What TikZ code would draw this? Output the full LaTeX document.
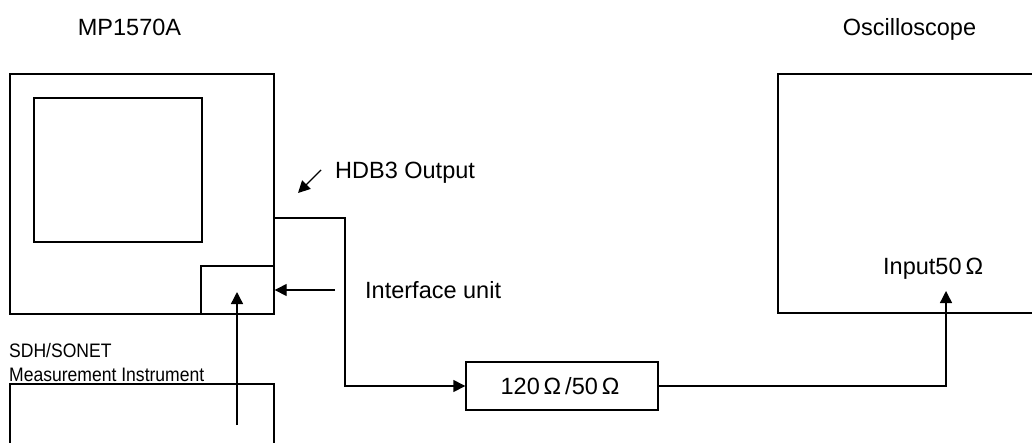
\documentclass[tikz,border=0pt]{standalone}
\usepackage{fontspec}
\setmainfont{Liberation Sans}
\newfontfamily\narrowfont[FakeStretch=0.9]{Liberation Sans}
\usetikzlibrary{arrows.meta}
\begin{document}
\begin{tikzpicture}[x=1pt,y=-1pt,
  box/.style={draw,line width=1.4pt},
  wire/.style={line width=1.4pt},
  arr/.style={wire,-{Triangle[length=12pt,width=12pt]}},
  lbl/.style={font=\fontsize{23.5}{26}\selectfont,inner sep=0pt},
  nlbl/.style={font=\narrowfont\fontsize{19.5}{22}\selectfont,inner sep=0pt,anchor=base west}]
\useasboundingbox (0,0) rectangle (1032,442);
% MP1570A
\node[box,minimum width=264pt,minimum height=240pt,inner sep=0pt] (mp) at (142,194) {};
\node[box,minimum width=168pt,minimum height=144pt,inner sep=0pt] (scr) at (118,170) {};
\node[box,minimum width=73pt,minimum height=48pt,inner sep=0pt] (ifu) at (237.5,290) {};
% lower instrument box (open at bottom)
\coordinate (sdhbl) at (10,450);
\coordinate (sdhtl) at (10,384);
\coordinate (sdhtr) at (274,384);
\coordinate (sdhbr) at (274,450);
\draw[wire] (sdhbl) -- (sdhtl) -- (sdhtr) -- (sdhbr);
% oscilloscope box (open at right)
\coordinate (osctr) at (1040,74);
\coordinate (osctl) at (778,74);
\coordinate (oscbl) at (778,313);
\coordinate (oscbr) at (1040,313);
\draw[wire] (osctr) -- (osctl) -- (oscbl) -- (oscbr);
% converter
\node[box,minimum width=192pt,minimum height=48pt,inner sep=0pt] (conv) at (562,386) {};
\node[lbl,anchor=base] (tconv) at (560,394) {120\,Ω\,/50\,Ω};
% labels
\node[lbl,anchor=base] (tmp) at (129.5,35) {MP1570A};
\node[lbl,anchor=base] (tosc) at (909.5,35) {Oscilloscope};
\node[lbl,anchor=base west] (thdb) at (335,178) {HDB3 Output};
\node[lbl,anchor=base west] (tifu) at (365,298) {Interface unit};
\node[lbl,anchor=base west] (tin) at (883,274) {Input50\,Ω};
\node[nlbl] (tsdh) at (9,357) {SDH/SONET};
\node[nlbl] (tmeas) at (9,381) {Measurement Instrument};
% connectors
\coordinate (hdbs) at (321,170);
\coordinate (hdbe) at (298,193);
\draw[arr] (hdbs) -- (hdbe);
\coordinate (out) at (274,218);
\draw[arr] (out) -- (345,218) |- (conv.west);
\coordinate (inp) at (946,291);
\draw[arr] (conv.east) -| (inp);
\coordinate (ifs) at (335,290);
\draw[arr] (ifs) -- (ifu.east);
\coordinate (vs) at (237,425);
\coordinate (ve) at (237,292);
\draw[arr] (vs) -- (ve);
\end{tikzpicture}
\end{document}
